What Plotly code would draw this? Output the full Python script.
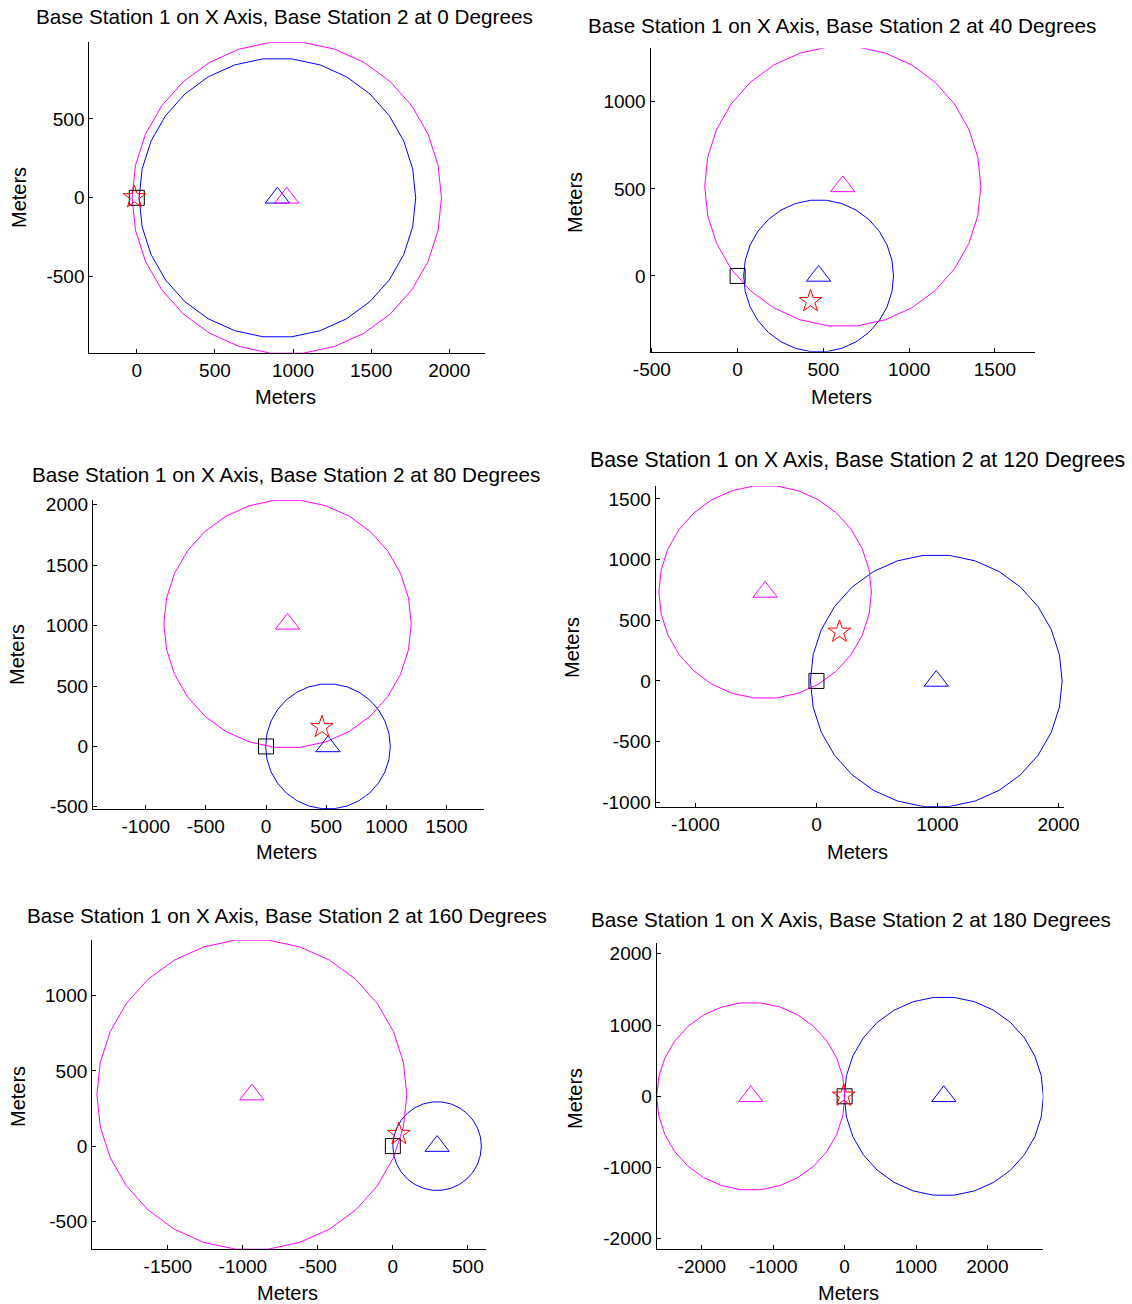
import numpy as np
import plotly.graph_objects as go

W, H = 1132, 1304

# ---------------- data ----------------
angles_deg = [0, 40, 80, 120, 160, 180]          # angle of base station 2
bs1_x = [900, 472, 515, 990, 295, 1390]          # base station 1 (on x axis)
bs1_y = [0, 0, 0, 0, 0, 0]
bs1_r = [885, 437, 518, 1040, 295, 1395]         # range circle radius BS1
bs2_x = [960, 613, 179, -424, -940, -1315]       # base station 2
bs2_y = [0, 514, 1015, 733, 342, 0]
bs2_r = [990, 805, 1028, 878, 1033, 1318]        # range circle radius BS2
est_x = [-15, 425, 465, 190, 40, -12]            # estimated position (star)
est_y = [3, -145, 160, 405, 80, 8]
true_x = [0, 0, 0, 0, 0, 0]                      # true mobile position (square)
true_y = [0, 0, 0, 0, 0, 0]

x_ranges = [[-304, 2226], [-508, 1736], [-1439, 1811], [-1329, 2041], [-2005, 619], [-2633, 2785]]
y_ranges = [[-985, 985], [-435, 1307], [-518, 2040], [-1036, 1606], [-686, 1370], [-2147, 2147]]
x_ticks = [[0, 500, 1000, 1500, 2000],
           [-500, 0, 500, 1000, 1500],
           [-1000, -500, 0, 500, 1000, 1500],
           [-1000, 0, 1000, 2000],
           [-1500, -1000, -500, 0, 500],
           [-2000, -1000, 0, 1000, 2000]]
y_ticks = [[-500, 0, 500],
           [0, 500, 1000],
           [-500, 0, 500, 1000, 1500, 2000],
           [-1000, -500, 0, 500, 1000, 1500],
           [-500, 0, 500, 1000],
           [-2000, -1000, 0, 1000, 2000]]

# ---------------- layout geometry (pixels) ----------------
boxes = [  # left, right, top, bottom
    (89.3, 484.6, 42.3, 353.3),
    (650.5, 1035.4, 48.3, 351.7),
    (92.9, 483.9, 500.0, 809.0),
    (655.6, 1063.5, 486.0, 806.7),
    (92.1, 485.7, 940.0, 1249.3),
    (656.7, 1043.4, 943.3, 1249.3),
]
titles_pos = [(284, 17, 'center', 20.7), (841.5, 26, 'center', 20.7), (286, 475, 'center', 20.7),
              (588, 460, 'left', 21.3), (287, 915, 'center', 20.7), (589, 919, 'left', 20.7)]
xlabel_pos = [(285, 397), (841, 397), (286, 852), (858, 852), (287, 1293), (848, 1293)]
ylabel_pos = [(19, 198), (575, 202), (17, 655), (572, 648), (18, 1097), (575, 1098)]

FONT = "Arial, Liberation Sans, Helvetica, sans-serif"
BLUE, MAG, RED, BLACK = "#0000ff", "#ff00ff", "#ff0000", "#000000"

fig = go.Figure()
theta = np.linspace(0, 2 * np.pi, 31)

annotations = []
for i in range(6):
    ax = "" if i == 0 else str(i + 1)
    xa, ya = "x" + ax, "y" + ax
    # range circles
    fig.add_trace(go.Scatter(x=bs1_x[i] + bs1_r[i] * np.cos(theta), y=bs1_y[i] + bs1_r[i] * np.sin(theta),
                             mode="lines", line=dict(color=BLUE, width=1), xaxis=xa, yaxis=ya,
                             showlegend=False, hoverinfo="skip"))
    fig.add_trace(go.Scatter(x=bs2_x[i] + bs2_r[i] * np.cos(theta), y=bs2_y[i] + bs2_r[i] * np.sin(theta),
                             mode="lines", line=dict(color=MAG, width=1), xaxis=xa, yaxis=ya,
                             showlegend=False, hoverinfo="skip"))
    # base stations
    fig.add_trace(go.Scatter(x=[bs1_x[i]], y=[bs1_y[i]], mode="markers", xaxis=xa, yaxis=ya,
                             marker=dict(symbol="triangle-up-open", size=21, color=BLUE, line=dict(width=1)),
                             showlegend=False, cliponaxis=False))
    fig.add_trace(go.Scatter(x=[bs2_x[i]], y=[bs2_y[i]], mode="markers", xaxis=xa, yaxis=ya,
                             marker=dict(symbol="triangle-up-open", size=21, color=MAG, line=dict(width=1)),
                             showlegend=False, cliponaxis=False))
    # true position and estimate
    fig.add_trace(go.Scatter(x=[true_x[i]], y=[true_y[i]], mode="markers", xaxis=xa, yaxis=ya,
                             marker=dict(symbol="square-open", size=15, color=BLACK, line=dict(width=1)),
                             showlegend=False, cliponaxis=False))
    fig.add_trace(go.Scatter(x=[est_x[i]], y=[est_y[i]], mode="markers", xaxis=xa, yaxis=ya,
                             marker=dict(symbol="star-open", size=17, color=RED, line=dict(width=1)),
                             showlegend=False, cliponaxis=False))

    l, r, t, b = boxes[i]
    common = dict(showgrid=False, zeroline=False, showline=True, linecolor=BLACK, linewidth=1,
                  ticks="inside", ticklen=4, tickcolor=BLACK, mirror=False, automargin=False,
                  tickmode="array", tickfont=dict(family=FONT, size=19, color=BLACK))
    fig.layout["xaxis" + ax] = dict(domain=[l / W, r / W], range=x_ranges[i], anchor=ya,
                                    tickvals=x_ticks[i], ticktext=[str(v) for v in x_ticks[i]], **common)
    fig.layout["yaxis" + ax] = dict(domain=[1 - b / H, 1 - t / H], range=y_ranges[i], anchor=xa,
                                    tickvals=y_ticks[i], ticktext=[str(v) for v in y_ticks[i]], **common)

    tx, ty, al, fs = titles_pos[i]
    annotations.append(dict(text=f"Base Station 1 on X Axis, Base Station 2 at {angles_deg[i]} Degrees",
                            x=tx / W, y=1 - ty / H, xref="paper", yref="paper", showarrow=False,
                            xanchor=al, yanchor="middle", font=dict(family=FONT, size=fs, color=BLACK)))
    lx, ly = xlabel_pos[i]
    annotations.append(dict(text="Meters", x=lx / W, y=1 - ly / H, xref="paper", yref="paper",
                            showarrow=False, xanchor="center", yanchor="middle",
                            font=dict(family=FONT, size=20, color=BLACK)))
    yx, yy = ylabel_pos[i]
    annotations.append(dict(text="Meters", x=yx / W, y=1 - yy / H, xref="paper", yref="paper",
                            showarrow=False, xanchor="center", yanchor="middle", textangle=-90,
                            font=dict(family=FONT, size=20, color=BLACK)))

fig.update_layout(width=W, height=H, margin=dict(l=0, r=0, t=0, b=0), template="none",
                  paper_bgcolor="white", plot_bgcolor="white", annotations=annotations)

fig.write_html("out.html", config={"displayModeBar": False},
               post_script="document.body.style.margin='0px';document.body.style.overflow='hidden';")
